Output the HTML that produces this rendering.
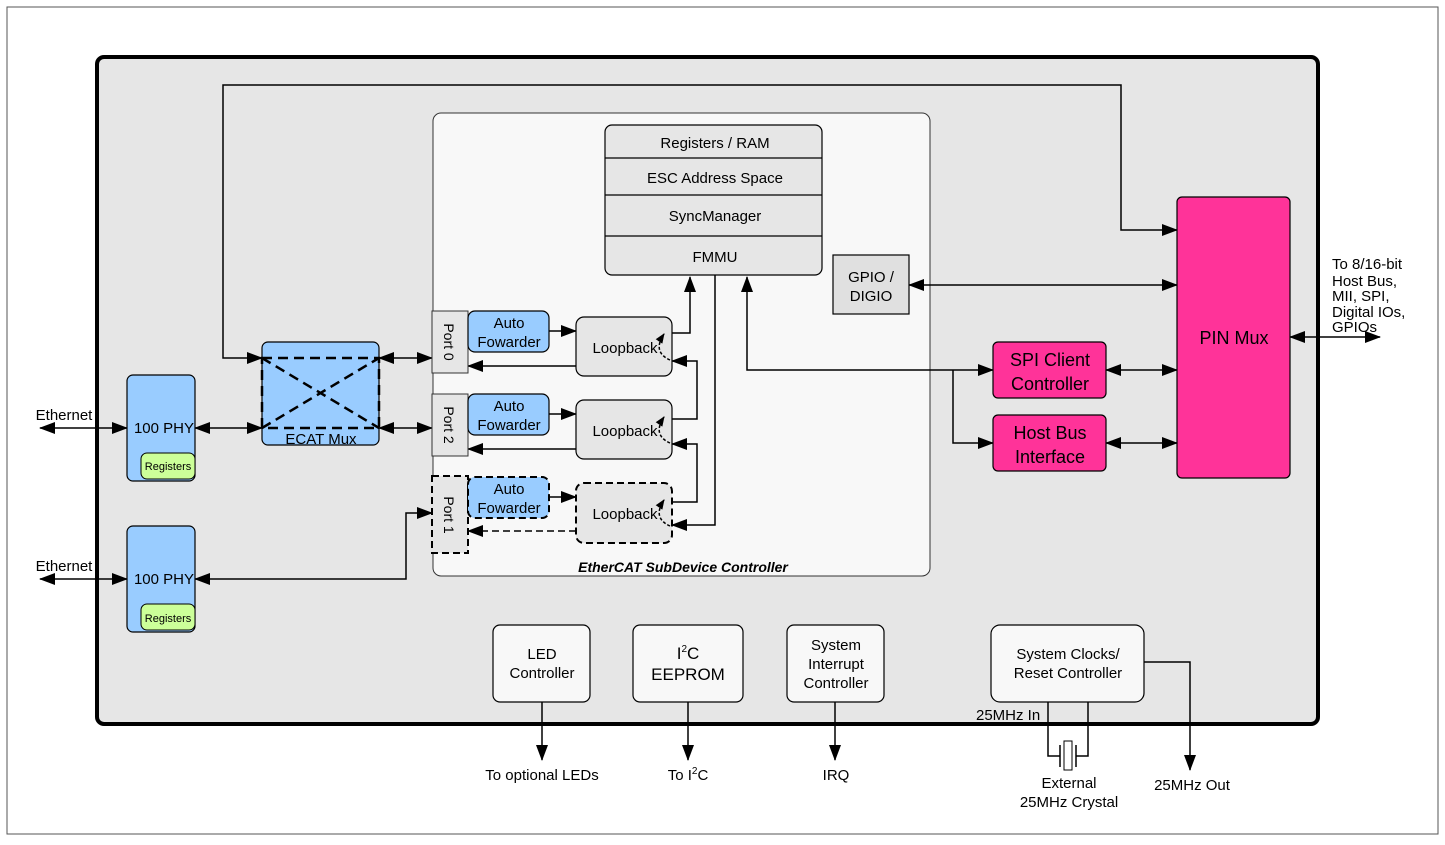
<!DOCTYPE html>
<html><head><meta charset="utf-8"><style>
html,body{margin:0;padding:0;background:#fff}
svg{display:block}
text{font-family:"Liberation Sans",sans-serif;fill:#000}
</style></head><body>
<svg width="1445" height="845" viewBox="0 0 1445 845" xmlns="http://www.w3.org/2000/svg">
<defs>
<marker id="a" markerWidth="10" markerHeight="8" refX="9" refY="4" orient="auto-start-reverse" markerUnits="userSpaceOnUse"><path d="M0,0 L10,4 L0,8 z" fill="#000"/></marker>
<marker id="b" markerWidth="16" markerHeight="12" refX="15" refY="6" orient="auto-start-reverse" markerUnits="userSpaceOnUse"><path d="M0,0 L16,6 L0,12 z" fill="#000"/></marker>
</defs>
<rect x="7" y="7" width="1431" height="827" fill="#fff" stroke="#555" stroke-width="1"/>
<rect x="97" y="57" width="1221" height="667" rx="7" fill="#e6e6e6" stroke="#000" stroke-width="4"/>
<rect x="433" y="113" width="497" height="463" rx="8" fill="#f8f8f8" stroke="#333" stroke-width="1"/>
<text x="683" y="572" font-size="14" font-weight="bold" font-style="italic" text-anchor="middle">EtherCAT SubDevice Controller</text>

<g stroke="#000" stroke-width="1.5" fill="none">
<!-- top loop -->
<path d="M1177,230 H1121 V85 H223 V358 H262" marker-start="url(#b)" marker-end="url(#b)"/>
<path d="M40,428 H127" marker-start="url(#b)" marker-end="url(#b)"/>
<path d="M40,579 H127" marker-start="url(#b)" marker-end="url(#b)"/>
<path d="M195,428 H262" marker-start="url(#b)" marker-end="url(#b)"/>
<path d="M379,358 H432" marker-start="url(#b)" marker-end="url(#b)"/>
<path d="M379,428 H432" marker-start="url(#b)" marker-end="url(#b)"/>
<path d="M195,579 H406 V513 H432" marker-start="url(#b)" marker-end="url(#b)"/>
<path d="M549,331 H576" marker-end="url(#b)"/>
<path d="M549,414 H576" marker-end="url(#b)"/>
<path d="M549,497 H576" marker-end="url(#b)"/>
<path d="M576,366 H468" marker-end="url(#b)"/>
<path d="M576,449 H468" marker-end="url(#b)"/>
<path d="M576,531 H468" stroke-dasharray="7,4" marker-end="url(#b)"/>
<path d="M672,333 H690 V277" marker-end="url(#b)"/>
<path d="M672,419 H697 V361 H672" marker-end="url(#b)"/>
<path d="M672,502 H697 V444 H672" marker-end="url(#b)"/>
<path d="M715,275 V525 H672" marker-end="url(#b)"/>
<path d="M747,277 V370 H993" marker-start="url(#b)" marker-end="url(#b)"/>
<path d="M953,370 V443 H993" marker-end="url(#b)"/>
<path d="M909,285 H1177" marker-start="url(#b)" marker-end="url(#b)"/>
<path d="M1106,370 H1177" marker-start="url(#b)" marker-end="url(#b)"/>
<path d="M1106,443 H1177" marker-start="url(#b)" marker-end="url(#b)"/>
<path d="M1290,337 H1380" marker-start="url(#b)" marker-end="url(#b)"/>
<path d="M542,702 V760" marker-end="url(#b)"/>
<path d="M688,702 V760" marker-end="url(#b)"/>
<path d="M835,702 V760" marker-end="url(#b)"/>
<path d="M1144,662 H1190 V770" marker-end="url(#b)"/>
<path d="M1048,702 V756 H1060 M1088,702 V756 H1076 M1060,745 V767 M1076,745 V767"/>
</g>
<rect x="1064" y="741" width="8" height="29" fill="#fff" stroke="#000" stroke-width="1"/>

<!-- PHYs -->
<rect x="127" y="375" width="68" height="106" rx="6" fill="#99ccff" stroke="#000" stroke-width="1.2"/>
<rect x="141" y="453" width="54" height="26" rx="6" fill="#ccff99" stroke="#000" stroke-width="1"/>
<text x="164" y="433" font-size="15" text-anchor="middle">100 PHY</text>
<text x="168" y="470" font-size="11" text-anchor="middle">Registers</text>
<rect x="127" y="526" width="68" height="106" rx="6" fill="#99ccff" stroke="#000" stroke-width="1.2"/>
<rect x="141" y="604" width="54" height="26" rx="6" fill="#ccff99" stroke="#000" stroke-width="1"/>
<text x="164" y="584" font-size="15" text-anchor="middle">100 PHY</text>
<text x="168" y="622" font-size="11" text-anchor="middle">Registers</text>
<text x="64" y="420" font-size="15" text-anchor="middle">Ethernet</text>
<text x="64" y="571" font-size="15" text-anchor="middle">Ethernet</text>

<!-- ECAT mux -->
<rect x="262" y="342" width="117" height="103" rx="6" fill="#99ccff" stroke="#000" stroke-width="1.2"/>
<g stroke="#000" stroke-width="2.5" stroke-dasharray="10,6" fill="none">
<rect x="262" y="358" width="117" height="70"/>
<path d="M262,358 L379,428 M262,428 L379,358"/>
</g>
<text x="321" y="444" font-size="15" text-anchor="middle">ECAT Mux</text>

<!-- ports -->
<rect x="432" y="311" width="36" height="62" fill="#e6e6e6" stroke="#333" stroke-width="1"/>
<rect x="432" y="394" width="36" height="62" fill="#e6e6e6" stroke="#333" stroke-width="1"/>
<rect x="432" y="476" width="36" height="77" fill="#e6e6e6" stroke="#000" stroke-width="2" stroke-dasharray="7,4"/>
<text transform="translate(444,342) rotate(90)" font-size="14" text-anchor="middle">Port 0</text>
<text transform="translate(444,425) rotate(90)" font-size="14" text-anchor="middle">Port 2</text>
<text transform="translate(444,515) rotate(90)" font-size="14" text-anchor="middle">Port 1</text>

<!-- auto fowarders -->
<rect x="468" y="311" width="81" height="41" rx="7" fill="#99ccff" stroke="#000" stroke-width="1.2"/>
<rect x="468" y="394" width="81" height="41" rx="7" fill="#99ccff" stroke="#000" stroke-width="1.2"/>
<rect x="468" y="477" width="81" height="41" rx="7" fill="#99ccff" stroke="#000" stroke-width="2" stroke-dasharray="7,4"/>
<g font-size="15" text-anchor="middle">
<text x="509" y="328">Auto</text><text x="509" y="347">Fowarder</text>
<text x="509" y="411">Auto</text><text x="509" y="430">Fowarder</text>
<text x="509" y="494">Auto</text><text x="509" y="513">Fowarder</text>
</g>

<!-- loopbacks -->
<rect x="576" y="317" width="96" height="59" rx="8" fill="#e6e6e6" stroke="#000" stroke-width="1.2"/>
<rect x="576" y="400" width="96" height="59" rx="8" fill="#e6e6e6" stroke="#000" stroke-width="1.2"/>
<rect x="576" y="483" width="96" height="60" rx="8" fill="#e6e6e6" stroke="#000" stroke-width="2" stroke-dasharray="7,4"/>
<g font-size="15" text-anchor="middle">
<text x="625" y="353">Loopback</text><text x="625" y="436">Loopback</text><text x="625" y="519">Loopback</text>
</g>
<g stroke="#000" stroke-width="1.5" stroke-dasharray="3,2" fill="none">
<path d="M670,360 Q652,352 664,334" marker-end="url(#a)"/>
<path d="M670,443 Q652,435 664,417" marker-end="url(#a)"/>
<path d="M670,526 Q652,518 664,500" marker-end="url(#a)"/>
</g>

<!-- registers stack -->
<rect x="605" y="125" width="217" height="150" rx="7" fill="#e6e6e6" stroke="#000" stroke-width="1.2"/>
<path d="M605,158 H822 M605,195 H822 M605,236 H822" stroke="#000" stroke-width="1.2"/>
<g font-size="15" text-anchor="middle">
<text x="715" y="148">Registers / RAM</text>
<text x="715" y="183">ESC Address Space</text>
<text x="715" y="221">SyncManager</text>
<text x="715" y="262">FMMU</text>
</g>
<rect x="833" y="255" width="76" height="59" fill="#e0e0e0" stroke="#000" stroke-width="1.2"/>
<text x="871" y="282" font-size="15" text-anchor="middle">GPIO /</text>
<text x="871" y="301" font-size="15" text-anchor="middle">DIGIO</text>

<!-- pink -->
<rect x="1177" y="197" width="113" height="281" rx="5" fill="#ff3399" stroke="#000" stroke-width="1.2"/>
<text x="1234" y="344" font-size="18" text-anchor="middle">PIN Mux</text>
<rect x="993" y="342" width="113" height="56" rx="5" fill="#ff3399" stroke="#000" stroke-width="1.2"/>
<text x="1050" y="366" font-size="18" text-anchor="middle">SPI Client</text>
<text x="1050" y="390" font-size="18" text-anchor="middle">Controller</text>
<rect x="993" y="415" width="113" height="56" rx="5" fill="#ff3399" stroke="#000" stroke-width="1.2"/>
<text x="1050" y="439" font-size="18" text-anchor="middle">Host Bus</text>
<text x="1050" y="463" font-size="18" text-anchor="middle">Interface</text>
<g font-size="15"><text x="1332" y="269">To 8/16-bit</text><text x="1332" y="286">Host Bus,</text><text x="1332" y="301">MII, SPI,</text><text x="1332" y="317">Digital IOs,</text><text x="1332" y="332">GPIOs</text></g>

<!-- bottom boxes -->
<rect x="493" y="625" width="97" height="77" rx="7" fill="#f8f8f8" stroke="#000" stroke-width="1.2"/>
<text x="542" y="659" font-size="15" text-anchor="middle">LED</text>
<text x="542" y="678" font-size="15" text-anchor="middle">Controller</text>
<rect x="633" y="625" width="110" height="77" rx="7" fill="#f8f8f8" stroke="#000" stroke-width="1.2"/>
<text x="688" y="659" font-size="17" text-anchor="middle">I<tspan font-size="10" dy="-7">2</tspan><tspan dy="7">C</tspan></text>
<text x="688" y="680" font-size="17" text-anchor="middle">EEPROM</text>
<rect x="787" y="625" width="97" height="77" rx="7" fill="#f8f8f8" stroke="#000" stroke-width="1.2"/>
<text x="836" y="650" font-size="15" text-anchor="middle">System</text>
<text x="836" y="669" font-size="15" text-anchor="middle">Interrupt</text>
<text x="836" y="688" font-size="15" text-anchor="middle">Controller</text>
<rect x="991" y="625" width="153" height="77" rx="9" fill="#f8f8f8" stroke="#000" stroke-width="1.2"/>
<text x="1068" y="659" font-size="15" text-anchor="middle">System Clocks/</text>
<text x="1068" y="678" font-size="15" text-anchor="middle">Reset Controller</text>
<text x="976" y="720" font-size="15">25MHz In</text>
<g font-size="15" text-anchor="middle">
<text x="542" y="780">To optional LEDs</text>
<text x="688" y="780">To I<tspan font-size="10" dy="-6">2</tspan><tspan dy="6">C</tspan></text>
<text x="836" y="780">IRQ</text>
<text x="1069" y="788">External</text>
<text x="1069" y="807">25MHz Crystal</text>
<text x="1192" y="790">25MHz Out</text>
</g>
</svg>
</body></html>
